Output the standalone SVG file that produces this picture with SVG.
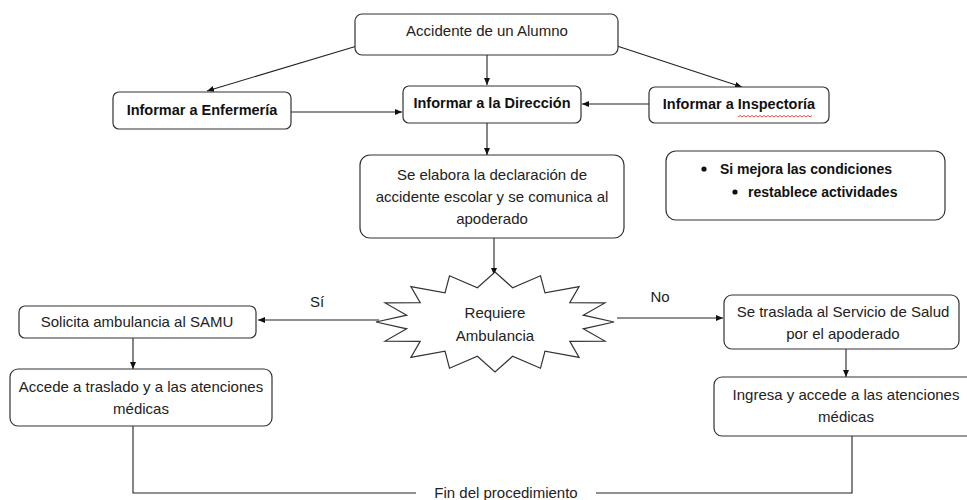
<svg xmlns="http://www.w3.org/2000/svg" width="967" height="500" viewBox="0 0 967 500">
<defs>
<marker id="ah" markerWidth="8" markerHeight="8" refX="7" refY="4" orient="auto" markerUnits="userSpaceOnUse">
<path d="M0,1 L7,4 L0,7 Z" fill="#111"/>
</marker>
<style>
.box{fill:#fff;stroke:#333;stroke-width:1.2}
.t{font-family:"Liberation Sans",Arial,sans-serif;font-size:15px;fill:#222;text-anchor:middle}
.b{font-family:"Liberation Sans",Arial,sans-serif;font-size:14px;font-weight:bold;fill:#111}
.bc{text-anchor:middle}
.ln{fill:none;stroke:#222;stroke-width:1.1}
.ar{fill:none;stroke:#222;stroke-width:1.1;marker-end:url(#ah)}
</style>
</defs>
<rect width="967" height="500" fill="#fff"/>

<g id="connectors">
<line class="ar" x1="357" y1="46" x2="207" y2="91"/>
<line class="ar" x1="487" y1="55" x2="487" y2="85"/>
<line class="ar" x1="617" y1="46" x2="742" y2="87"/>
<line class="ar" x1="291" y1="112" x2="402" y2="112"/>
<line class="ar" x1="649" y1="104" x2="582" y2="104"/>
<line class="ar" x1="487" y1="123" x2="487" y2="155"/>
<line class="ar" x1="494" y1="238" x2="494" y2="275"/>
<line class="ar" x1="379" y1="320" x2="258" y2="320"/>
<line class="ar" x1="617" y1="318" x2="723" y2="318"/>
<line class="ar" x1="133" y1="338" x2="133" y2="369"/>
<line class="ar" x1="846" y1="349" x2="846" y2="377"/>
<polyline class="ln" points="133,426 133,493 416,493"/>
<polyline class="ln" points="596,493 852,493 852,436"/>
<text class="t" x="317" y="307">Sí</text>
<text class="t" x="660" y="302">No</text>
<text class="t" x="506" y="498">Fin del procedimiento</text>
</g>

<g id="accidente">
<rect class="box" x="355" y="14" width="263" height="41" rx="7"/>
<text class="t" x="487" y="36">Accidente de un Alumno</text>
</g>

<g id="enfermeria">
<rect class="box" x="113" y="92" width="178" height="37" rx="6"/>
<text class="b bc" x="202" y="115" style="font-size:14.5px">Informar a Enfermería</text>
</g>

<g id="direccion">
<rect class="box" x="403" y="86" width="178" height="37" rx="6"/>
<text class="b bc" x="492" y="108" style="font-size:14.5px">Informar a la Dirección</text>
</g>

<g id="inspectoria">
<rect class="box" x="649" y="87" width="180" height="36" rx="6"/>
<text class="b bc" x="739" y="109" style="font-size:14.5px">Informar a Inspectoría</text>
<path d="M738,117 l2,-1.5 l2,1.5 l2,-1.5 l2,1.5 l2,-1.5 l2,1.5 l2,-1.5 l2,1.5 l2,-1.5 l2,1.5 l2,-1.5 l2,1.5 l2,-1.5 l2,1.5 l2,-1.5 l2,1.5 l2,-1.5 l2,1.5 l2,-1.5 l2,1.5 l2,-1.5 l2,1.5 l2,-1.5 l2,1.5 l2,-1.5 l2,1.5 l2,-1.5 l2,1.5 l2,-1.5 l2,1.5 l2,-1.5 l2,1.5 l2,-1.5 l2,1.5 l2,-1.5 l2,1.5 l2,-1.5" fill="none" stroke="#d02020" stroke-width="0.8"/>
</g>

<g id="declaracion">
<rect class="box" x="360" y="155" width="264" height="83" rx="10"/>
<text class="t" x="492" y="180">Se elabora la declaración de</text>
<text class="t" x="492" y="202">accidente escolar y se comunica al</text>
<text class="t" x="492" y="224">apoderado</text>
</g>

<g id="condiciones">
<rect class="box" x="666" y="151" width="279" height="69" rx="10"/>
<circle cx="704" cy="169" r="2.6" fill="#111"/>
<text class="b" x="720" y="174">Si mejora las condiciones</text>
<circle cx="735" cy="192" r="2.6" fill="#111"/>
<text class="b" x="748" y="197">restablece actividades</text>
</g>

<g id="requiere" transform="translate(-2,-3)">
<polygon class="box" points="497,275 514.6,290.7 542.5,278.8 547,295.9 581.1,289.6 571.8,305.6 606.9,305.9 585.3,318.2 616,325 585.3,331.8 606.9,344.1 571.8,344.4 581.1,360.4 547,354.1 542.5,371.2 514.6,359.3 497,375 479.4,359.3 451.5,371.2 447,354.1 412.9,360.4 422.2,344.4 387.1,344.1 408.7,331.8 378,325 408.7,318.2 387.1,305.9 422.2,305.6 412.9,289.6 447,295.9 451.5,278.8 479.4,290.7"/>
<text class="t" x="497" y="321">Requiere</text>
<text class="t" x="497" y="344">Ambulancia</text>
</g>

<g id="samu">
<rect class="box" x="19" y="306" width="237" height="32" rx="6"/>
<text class="t" x="137" y="327">Solicita ambulancia al SAMU</text>
</g>

<g id="accede">
<rect class="box" x="10" y="369" width="262" height="57" rx="8"/>
<text class="t" x="141" y="392">Accede a traslado y a las atenciones</text>
<text class="t" x="141" y="414">médicas</text>
</g>

<g id="traslada">
<rect class="box" x="724" y="295" width="235" height="54" rx="8"/>
<text class="t" x="843" y="317">Se traslada al Servicio de Salud</text>
<text class="t" x="843" y="339">por el apoderado</text>
</g>

<g id="ingresa">
<rect class="box" x="714" y="377" width="262" height="59" rx="8"/>
<text class="t" x="846" y="400">Ingresa y accede a las atenciones</text>
<text class="t" x="846" y="422">médicas</text>
</g>
</svg>
